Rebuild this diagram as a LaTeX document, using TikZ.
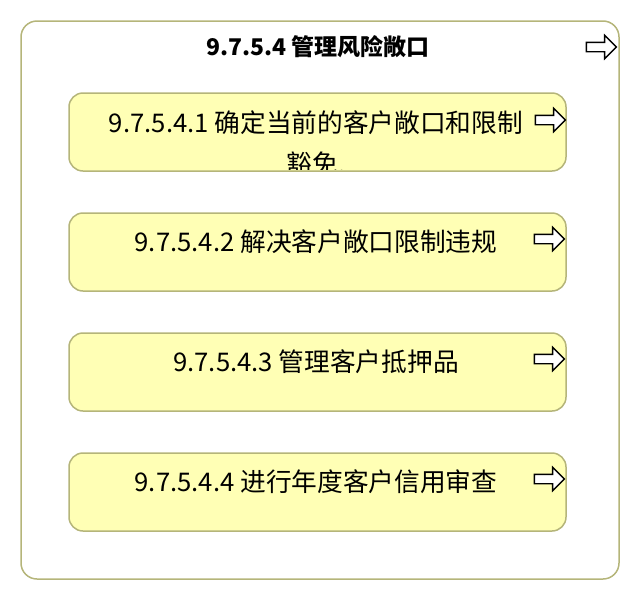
\documentclass[tikz,border=0pt]{standalone}
\usepackage{fontspec}
\setmainfont{Noto Sans CJK SC}
\usetikzlibrary{shapes.arrows}

\definecolor{boxfill}{RGB}{255,255,181}
\definecolor{boxline}{RGB}{181,181,122}

\begin{document}
\begin{tikzpicture}[x=1pt,y=-1pt]
\tikzstyle{every node}+=[inner sep=0pt]
\tikzstyle{outerbox}=[draw=boxline, line width=1.5pt, rounded corners=16pt,
  minimum width=598pt, minimum height=558pt]
\tikzstyle{taskbox}=[draw=boxline, fill=boxfill, line width=1.5pt,
  rounded corners=14pt, minimum width=497pt, minimum height=78pt]
\tikzstyle{linkarrow}=[single arrow, draw=black, fill=white, line width=1.4pt,
  inner xsep=0pt, inner ysep=4pt, minimum height=30pt,
  single arrow head extend=7pt]
\tikzstyle{tasktext}=[font=\fontsize{25.7}{41}\selectfont, align=center,
  anchor=north]
\useasboundingbox (0,0) rectangle (640,600);
% outer process
\node[outerbox] (risk) at (320,300) {};
\node[font=\fontsize{23}{28}\selectfont\bfseries] (risktitle) at (318,47)
  {9.7.5.4 管理风险敞口};
\node[linkarrow] (riskarrow) at (599,47) {};
% sub processes
\node[taskbox] (current) at (317.5,132) {};
\begin{scope}
\clip (69,93) rectangle (566,169.5);
\node[tasktext] (currenttext) at (316,110) {9.7.5.4.1 确定当前的客户敞口和限制\\豁免.};
\end{scope}
\node[linkarrow] (currentarrow) at (548,120) {};
\node[taskbox] (breach) at (317.5,252) {};
\node[tasktext] (breachtext) at (316,229) {9.7.5.4.2 解决客户敞口限制违规};
\node[linkarrow] (breacharrow) at (547,239) {};
\node[taskbox] (collateral) at (317.5,372) {};
\node[tasktext] (collateraltext) at (316,349) {9.7.5.4.3 管理客户抵押品};
\node[linkarrow] (collateralarrow) at (547,359) {};
\node[taskbox] (review) at (317.5,492) {};
\node[tasktext] (reviewtext) at (316,469) {9.7.5.4.4 进行年度客户信用审查};
\node[linkarrow] (reviewarrow) at (547,479) {};
\end{tikzpicture}
\end{document}
